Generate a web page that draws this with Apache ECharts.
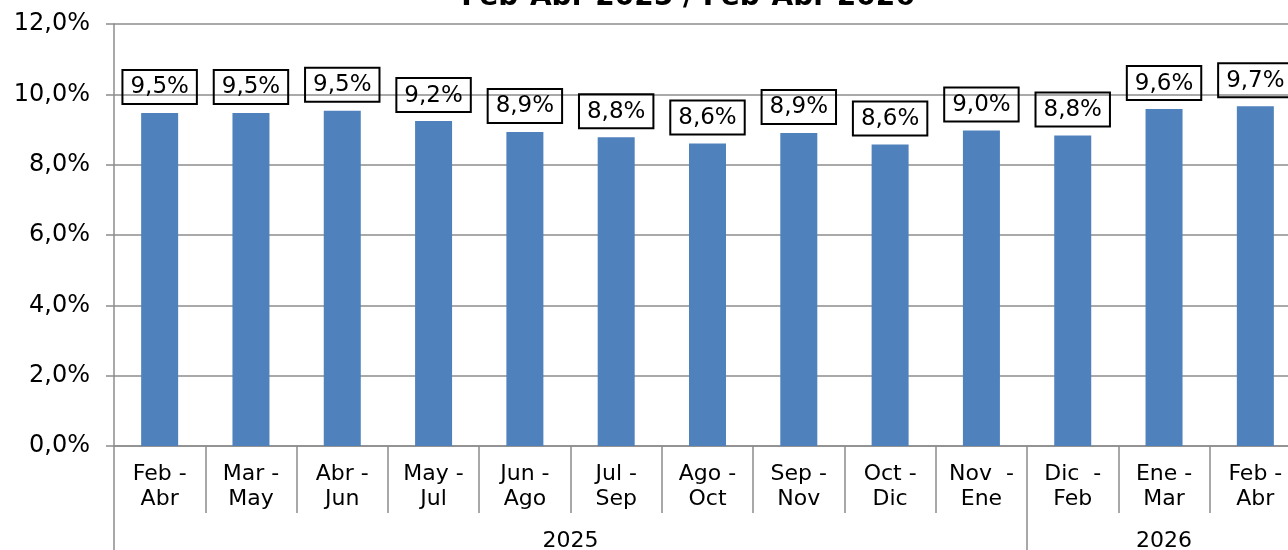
<!DOCTYPE html>
<html>
<head>
<meta charset="utf-8">
<script src="https://cdn.jsdelivr.net/npm/echarts@6/dist/echarts.min.js"></script>
<style>
  html, body { margin: 0; padding: 0; background: #fff; }
  #chart { width: 1288px; height: 550px; }
</style>
</head>
<body>
<div id="chart"></div>
<script>
// datos
const periodos = ["Feb -\nAbr", "Mar -\nMay", "Abr -\nJun", "May -\nJul", "Jun -\nAgo", "Jul -\nSep",
  "Ago -\nOct", "Sep -\nNov", "Oct -\nDic", "Nov  -\nEne", "Dic  -\nFeb", "Ene -\nMar", "Feb -\nAbr"];
const tasa = [9.47, 9.47, 9.53, 9.24, 8.93, 8.78, 8.60, 8.90, 8.57, 8.97, 8.83, 9.58, 9.66];
const anios = ["2025", "2026"];
const periodosPorAnio = [10, 3];
const yTicks = [0, 2, 4, 6, 8, 10, 12];

// límites y centros de cada año sobre el eje auxiliar
let limites = [0];
let centros = [];
periodosPorAnio.forEach(n => {
  const ini = limites[limites.length - 1];
  centros.push(ini + n / 2);
  limites.push(ini + n);
});

const fmt = v => v.toFixed(1).replace(".", ",") + "%";
const font = "Verdana, 'DejaVu Sans', sans-serif";

const chart = echarts.init(document.getElementById("chart"));
const option = {
  animation: false,
  title: {
    text: "Feb-Abr 2025 / Feb-Abr 2026",
    left: 683,
    top: -21,
    textAlign: "center",
    textStyle: { fontFamily: font, fontSize: 28, fontWeight: "bold", color: "#000" }
  },
  grid: { left: 114, top: 24, width: 1187, height: 422, containLabel: false, outerBoundsMode: "none" },
  xAxis: [
    {
      type: "category",
      data: periodos,
      axisLine: { lineStyle: { color: "#8c8c8c", width: 1.5 } },
      axisTick: { show: true, interval: 0, length: 67, lineStyle: { color: "#8c8c8c", width: 1.5 } },
      axisLabel: {
        interval: 0,
        margin: 16,
        lineHeight: 25,
        fontFamily: font,
        fontSize: 22,
        color: "#000"
      }
    },
    {
      type: "value",
      min: 0,
      max: limites[limites.length - 1],
      position: "bottom",
      axisLine: { show: false },
      splitLine: { show: false },
      axisTick: {
        show: true,
        customValues: limites,
        length: 104,
        lineStyle: { color: "#8c8c8c", width: 1.5 }
      },
      axisLabel: {
        customValues: centros,
        margin: 84,
        fontFamily: font,
        fontSize: 22,
        color: "#000",
        formatter: v => anios[centros.indexOf(v)] || ""
      }
    }
  ],
  yAxis: {
    type: "value",
    min: 0,
    max: 12,
    interval: 2,
    axisLine: { show: true, lineStyle: { color: "#8c8c8c", width: 1.5 } },
    axisTick: { show: true, length: 8, lineStyle: { color: "#8c8c8c", width: 1.5 } },
    splitLine: { show: true, lineStyle: { color: "#8c8c8c", width: 1.5 } },
    axisLabel: {
      margin: 24,
      fontFamily: font,
      fontSize: 24,
      color: "#000",
      customValues: yTicks,
      formatter: v => fmt(v)
    }
  },
  series: [
    {
      type: "bar",
      data: tasa,
      xAxisIndex: 0,
      barWidth: 37,
      itemStyle: { color: "#4f81bd" },
      label: {
        show: true,
        position: "top",
        distance: 9,
        formatter: p => fmt(p.value),
        fontFamily: font,
        fontSize: 23,
        color: "#000",
        borderColor: "#000",
        borderWidth: 2,
        padding: [6, 8, 5, 8]
      }
    }
  ]
};
chart.setOption(option);
window.addEventListener("resize", () => chart.resize(), false);
</script>
</body>
</html>
